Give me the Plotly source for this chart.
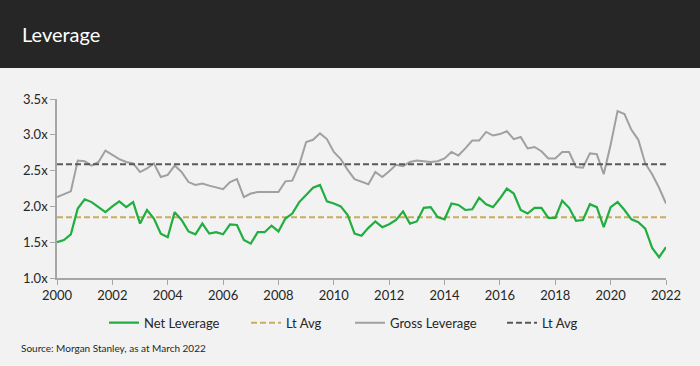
import plotly.graph_objects as go

# Quarterly observations, 2000 Q1 .. 2022 Q1
start_year = 2000
net_leverage = [
    1.50, 1.53, 1.61, 1.97, 2.10, 2.06, 1.99, 1.92, 2.00, 2.07,
    1.99, 2.06, 1.76, 1.95, 1.83, 1.62, 1.57, 1.92, 1.81, 1.65,
    1.61, 1.76, 1.62, 1.64, 1.61, 1.75, 1.74, 1.53, 1.48, 1.64,
    1.64, 1.73, 1.65, 1.83, 1.90, 2.06, 2.16, 2.26, 2.30, 2.07,
    2.04, 2.00, 1.88, 1.62, 1.59, 1.70, 1.79, 1.71, 1.75, 1.81,
    1.93, 1.76, 1.79, 1.98, 1.99, 1.85, 1.82, 2.04, 2.02, 1.95,
    1.96, 2.12, 2.03, 1.99, 2.11, 2.25, 2.18, 1.95, 1.90, 1.98,
    1.98, 1.84, 1.84, 2.08, 1.98, 1.80, 1.81, 2.03, 1.99, 1.71,
    1.99, 2.06, 1.95, 1.82, 1.78, 1.69, 1.42, 1.29, 1.43,
]
gross_leverage = [
    2.13, 2.17, 2.21, 2.64, 2.63, 2.57, 2.62, 2.78, 2.72, 2.66,
    2.62, 2.60, 2.48, 2.53, 2.60, 2.41, 2.44, 2.57, 2.48, 2.34,
    2.30, 2.32, 2.29, 2.27, 2.24, 2.34, 2.38, 2.13, 2.18, 2.20,
    2.20, 2.19, 2.20, 2.35, 2.36, 2.58, 2.90, 2.93, 3.02, 2.94,
    2.76, 2.66, 2.51, 2.38, 2.34, 2.31, 2.48, 2.41, 2.49, 2.58,
    2.56, 2.62, 2.64, 2.63, 2.62, 2.63, 2.67, 2.76, 2.71, 2.81,
    2.92, 2.92, 3.04, 2.99, 3.01, 3.05, 2.94, 2.97, 2.81, 2.83,
    2.77, 2.67, 2.67, 2.76, 2.76, 2.55, 2.54, 2.74, 2.73, 2.45,
    2.86, 3.33, 3.29, 3.07, 2.93, 2.60, 2.45, 2.26, 2.04,
]
net_lt_avg = 1.85
gross_lt_avg = 2.59

years = [start_year + i / 4 for i in range(len(net_leverage))]
x_ticks = list(range(2000, 2023, 2))
y_ticks = [1.0, 1.5, 2.0, 2.5, 3.0, 3.5]
y_tick_labels = ["1.0x", "1.5x", "2.0x", "2.5x", "3.0x", "3.5x"]

FONT = "Lato, 'Open Sans', sans-serif"
TXT = "#262626"

fig = go.Figure()
fig.add_trace(go.Scatter(
    x=years, y=gross_leverage, mode="lines", name="Gross Leverage",
    line=dict(color="#a0a0a0", width=2), legend="legend3",
))
fig.add_trace(go.Scatter(
    x=[years[0], years[-1]], y=[gross_lt_avg, gross_lt_avg], mode="lines",
    name="Lt Avg", line=dict(color="#595959", width=2, dash="6px,3px"),
    legend="legend4",
))
fig.add_trace(go.Scatter(
    x=[years[0], years[-1]], y=[net_lt_avg, net_lt_avg], mode="lines",
    name="Lt Avg", line=dict(color="#c9ad5c", width=2, dash="6px,3px"),
    legend="legend2",
))
fig.add_trace(go.Scatter(
    x=years, y=net_leverage, mode="lines", name="Net Leverage",
    line=dict(color="#1fae3f", width=2.2), legend="legend",
))

leg_common = dict(orientation="h", yanchor="middle", y=-0.25,
                  xanchor="left", bgcolor="rgba(0,0,0,0)",
                  font=dict(family=FONT, size=13, color=TXT),
                  itemwidth=30, tracegroupgap=0)

def xpaper(px):
    return (px - 57) / (666 - 57)

fig.update_layout(
    width=700, height=366,
    showlegend=True,
    margin=dict(l=57, r=34, t=99, b=88),
    paper_bgcolor="#f2f2f2", plot_bgcolor="#f2f2f2",
    font=dict(family=FONT, size=13, color=TXT),
    legend=dict(leg_common, x=xpaper(104)),
    legend2=dict(leg_common, x=xpaper(246)),
    legend3=dict(leg_common, x=xpaper(350)),
    legend4=dict(leg_common, x=xpaper(502)),
    xaxis=dict(
        range=[2000, 2022], tickvals=x_ticks, ticktext=[str(t) for t in x_ticks],
        showgrid=False, zeroline=False, showline=True, linecolor="#a6a6a6",
        linewidth=1.5, ticks="outside", ticklen=5, tickcolor="#a6a6a6",
        tickwidth=1, tickfont=dict(family=FONT, size=13, color=TXT),
    ),
    yaxis=dict(
        range=[1.0, 3.5], tickvals=y_ticks, ticktext=y_tick_labels,
        showgrid=False, zeroline=False, showline=True, linecolor="#a6a6a6",
        linewidth=1.5, ticks="outside", ticklen=5, tickcolor="#a6a6a6",
        tickwidth=1, tickfont=dict(family=FONT, size=13, color=TXT),
    ),
    shapes=[dict(
        type="rect", xref="paper", yref="paper",
        x0=-0.2, x1=1.2, y0=1 + (99 - 68) / 179, y1=1 + 99 / 179 + 0.1,
        fillcolor="#262626", line=dict(width=0), layer="above",
    )],
    annotations=[
        dict(text="Leverage", xref="paper", yref="paper",
             x=xpaper(20), y=1 + (99 - 34) / 179, xanchor="left",
             yanchor="middle", showarrow=False,
             font=dict(family=FONT, size=20, color="#ffffff")),
        dict(text="Source: Morgan Stanley, as at March 2022", xref="paper",
             yref="paper", x=xpaper(19), y=-(348 - 278) / 179,
             xanchor="left", yanchor="middle", showarrow=False,
             font=dict(family=FONT, size=10, color=TXT)),
    ],
)

fig.write_html(
    "out.html",
    config={"displayModeBar": False},
    post_script="document.body.style.margin='0';document.body.style.overflow='hidden';",
)
